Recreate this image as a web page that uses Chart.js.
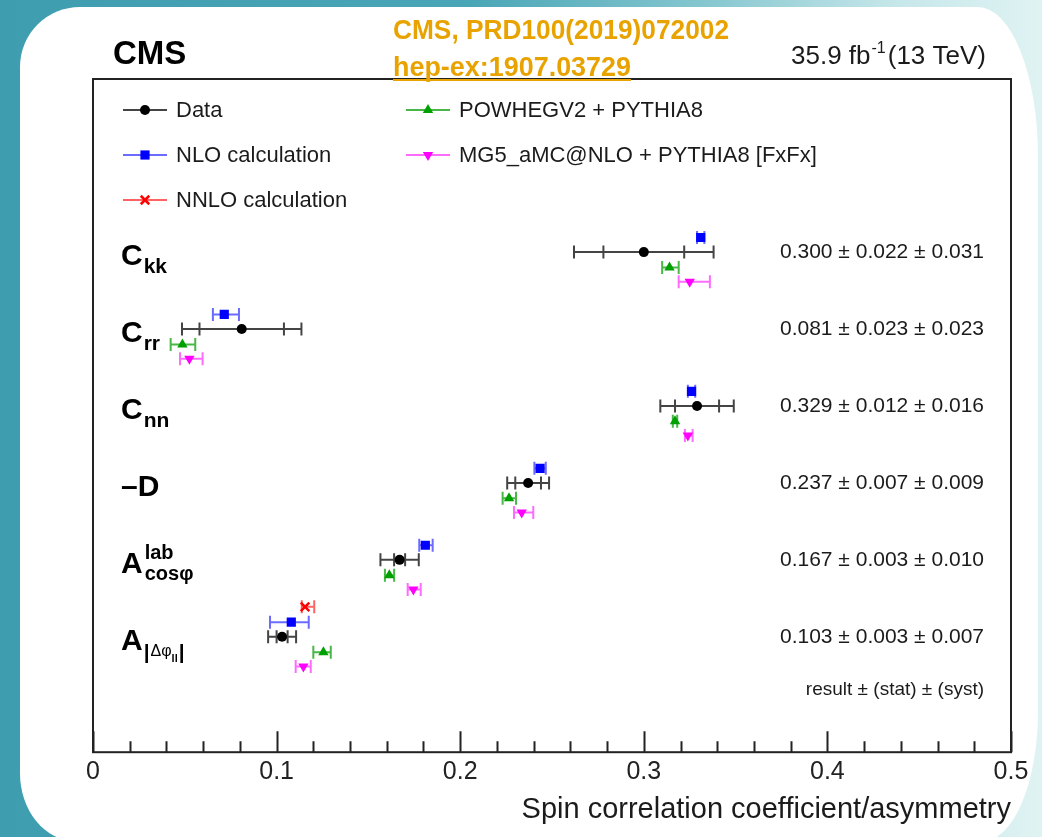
<!DOCTYPE html>
<html>
<head>
<meta charset="utf-8">
<script src="https://cdn.jsdelivr.net/npm/chart.js@4.4.1/dist/chart.umd.min.js"></script>
<style>
  html, body { margin: 0; padding: 0; overflow: hidden; background: #ffffff; }
  canvas { display: block; }
</style>
</head>
<body>
<canvas id="spin" width="1042" height="837"></canvas>
<script>
// Observables, listed top to bottom
const observables = ['Ckk', 'Crr', 'Cnn', '-D', 'Acos', 'Adphi'];

// Measured values: result, statistical and systematic uncertainty
const dataValue = [0.300, 0.081, 0.329, 0.237, 0.167, 0.103];
const dataStat  = [0.022, 0.023, 0.012, 0.007, 0.003, 0.003];
const dataSyst  = [0.031, 0.023, 0.016, 0.009, 0.010, 0.007];

// NLO calculation (lower / upper uncertainty)
const nloValue   = [0.331, 0.0715, 0.326, 0.2435, 0.181, 0.108];
const nloErrLow  = [0.002, 0.0062, 0.002, 0.0031, 0.0033, 0.0116];
const nloErrHigh = [0.002, 0.0080, 0.002, 0.0031, 0.0040, 0.0095];

// NNLO calculation (only for the |delta phi| asymmetry)
const nnloValue   = [null, null, null, null, null, 0.1155];
const nnloErrLow  = [null, null, null, null, null, 0.0018];
const nnloErrHigh = [null, null, null, null, null, 0.0050];

// POWHEGV2 + PYTHIA8
const powhegValue   = [0.314, 0.0487, 0.317, 0.2266, 0.1614, 0.1255];
const powhegErrLow  = [0.004, 0.0064, 0.0012, 0.0035, 0.0024, 0.0055];
const powhegErrHigh = [0.005, 0.0070, 0.0012, 0.0038, 0.0026, 0.0040];

// MG5_aMC@NLO + PYTHIA8 [FxFx]
const mgValue   = [0.325, 0.0525, 0.324, 0.2335, 0.1745, 0.1146];
const mgErrLow  = [0.006, 0.0051, 0.0016, 0.0042, 0.0031, 0.0042];
const mgErrHigh = [0.011, 0.0072, 0.0026, 0.0063, 0.0040, 0.0040];

// Axis tick labels
const xTickLabels = ['0', '0.1', '0.2', '0.3', '0.4', '0.5'];

const FONT = "'Liberation Sans', Arial, Helvetica, sans-serif";
const INK = '#1b1b1b';
const ORANGE = '#e9a300';

// vertical slot of each observable (top row has the largest value)
const rowPos = (i) => observables.length - 1 - i;
// small vertical displacement of each prediction inside its row
const shift = { data: 0, nlo: 0.19, nnlo: 0.39, powheg: -0.2, mg: -0.385 };

function points(values, lows, highs, dy) {
  const out = [];
  values.forEach((v, i) => {
    if (v === null) return;
    out.push({ x: v, y: rowPos(i) + dy, lo: v - lows[i], hi: v + highs[i] });
  });
  return out;
}

const dataPoints = dataValue.map((v, i) => {
  const tot = Math.sqrt(dataStat[i] * dataStat[i] + dataSyst[i] * dataSyst[i]);
  return { x: v, y: rowPos(i), lo: v - tot, hi: v + tot, sLo: v - dataStat[i], sHi: v + dataStat[i] };
});

const datasets = [
  { label: 'NLO calculation', data: points(nloValue, nloErrLow, nloErrHigh, shift.nlo),
    pointStyle: 'rect', pointRadius: 6.5, backgroundColor: '#0000ff', borderColor: '#0000ff', pointBorderWidth: 0,
    errorColor: 'rgba(70,70,255,0.8)' },
  { label: 'NNLO calculation', data: points(nnloValue, nnloErrLow, nnloErrHigh, shift.nnlo),
    pointStyle: 'crossRot', pointRadius: 6, backgroundColor: '#ff0000', borderColor: '#ff0000', pointBorderWidth: 2.5,
    errorColor: 'rgba(255,60,60,0.8)' },
  { label: 'POWHEGV2 + PYTHIA8', data: points(powhegValue, powhegErrLow, powhegErrHigh, shift.powheg),
    pointStyle: 'triangle', pointRadius: 6, backgroundColor: '#00a000', borderColor: '#00a000', pointBorderWidth: 0,
    errorColor: 'rgba(40,170,40,0.85)' },
  { label: 'MG5_aMC@NLO + PYTHIA8 [FxFx]', data: points(mgValue, mgErrLow, mgErrHigh, shift.mg),
    pointStyle: 'triangle', pointRotation: 180, pointRadius: 6, backgroundColor: '#ff00ff', borderColor: '#ff00ff', pointBorderWidth: 0,
    errorColor: 'rgba(255,70,255,0.8)' },
  { label: 'Data', data: dataPoints,
    pointStyle: 'circle', pointRadius: 5, backgroundColor: '#000000', borderColor: '#000000', pointBorderWidth: 0,
    errorColor: 'rgba(35,35,35,0.85)' }
];

// Card-shaped page background behind the plot
function cardPath(ctx, l, t, r, b, c) {
  ctx.beginPath();
  ctx.moveTo(l + c.tl[0], t);
  ctx.lineTo(r - c.tr[0], t);
  ctx.ellipse(r - c.tr[0], t + c.tr[1], c.tr[0], c.tr[1], 0, -Math.PI / 2, 0);
  ctx.lineTo(r, b - c.br[1]);
  ctx.ellipse(r - c.br[0], b - c.br[1], c.br[0], c.br[1], 0, 0, Math.PI / 2);
  ctx.lineTo(l + c.bl[0], b);
  ctx.ellipse(l + c.bl[0], b - c.bl[1], c.bl[0], c.bl[1], 0, Math.PI / 2, Math.PI);
  ctx.lineTo(l, t + c.tl[1]);
  ctx.ellipse(l + c.tl[0], t + c.tl[1], c.tl[0], c.tl[1], 0, Math.PI, 1.5 * Math.PI);
  ctx.closePath();
}

const backdrop = {
  id: 'backdrop',
  beforeDraw(chart) {
    const { ctx, width, height } = chart;
    ctx.save();
    const g = ctx.createLinearGradient(0, 0, width, 0);
    g.addColorStop(0, '#3f9db0');
    g.addColorStop(0.45, '#49a6b6');
    g.addColorStop(0.68, '#86c7d0');
    g.addColorStop(0.86, '#c6e7ea');
    g.addColorStop(1, '#e0f3f3');
    ctx.fillStyle = g;
    ctx.fillRect(0, 0, width, height);
    cardPath(ctx, 20, 7, 1038, 841, { tl: [60, 60], tr: [60, 150], br: [55, 130], bl: [55, 68] });
    ctx.fillStyle = '#ffffff';
    ctx.fill();
    ctx.restore();
  }
};

// Horizontal uncertainty bars with end caps
const errorBars = {
  id: 'errorBars',
  beforeDatasetsDraw(chart) {
    const { ctx } = chart;
    const xs = chart.scales.x, ys = chart.scales.y;
    ctx.save();
    ctx.lineWidth = 2;
    chart.data.datasets.forEach((ds) => {
      ctx.strokeStyle = ds.errorColor;
      ds.data.forEach((p) => {
        const y = ys.getPixelForValue(p.y);
        const x1 = xs.getPixelForValue(p.lo), x2 = xs.getPixelForValue(p.hi);
        ctx.beginPath();
        ctx.moveTo(x1, y); ctx.lineTo(x2, y);
        const caps = [x1, x2];
        if (p.sLo !== undefined) caps.push(xs.getPixelForValue(p.sLo), xs.getPixelForValue(p.sHi));
        caps.forEach((cx) => { ctx.moveTo(cx, y - 6.5); ctx.lineTo(cx, y + 6.5); });
        ctx.stroke();
      });
    });
    ctx.restore();
  }
};

// Plot frame with inward-pointing ticks on the horizontal axis
const frame = {
  id: 'frame',
  beforeDatasetsDraw(chart) {
    const { ctx, chartArea: a } = chart;
    const xs = chart.scales.x;
    ctx.save();
    ctx.strokeStyle = '#222';
    ctx.lineWidth = 2;
    ctx.strokeRect(a.left, a.top, a.right - a.left, a.bottom - a.top);
    ctx.beginPath();
    for (let k = 0; k <= 25; k++) {
      const v = xs.min + k * (xs.max - xs.min) / 25;
      const x = Math.round(xs.getPixelForValue(v)) + 0.5;
      const len = (k % 5 === 0) ? 21 : 11;
      ctx.moveTo(x, a.bottom); ctx.lineTo(x, a.bottom - len);
    }
    ctx.stroke();
    ctx.restore();
  }
};

function drawMarker(ctx, ds, x, y) {
  ctx.fillStyle = ds.backgroundColor;
  ctx.strokeStyle = ds.borderColor;
  ctx.lineWidth = ds.pointBorderWidth;
  if (Chart.helpers && Chart.helpers.drawPoint) {
    Chart.helpers.drawPoint(ctx, { pointStyle: ds.pointStyle, rotation: ds.pointRotation || 0,
      radius: ds.pointRadius, borderWidth: ds.pointBorderWidth }, x, y);
  } else {
    ctx.beginPath(); ctx.arc(x, y, ds.pointRadius, 0, Math.PI * 2); ctx.fill();
  }
}

function text(ctx, s, x, y, font, align, baseline) {
  ctx.font = font;
  ctx.textAlign = align || 'left';
  ctx.textBaseline = baseline || 'alphabetic';
  ctx.fillText(s, x, y);
  return ctx.measureText(s).width;
}

function fitText(ctx, s, x, y, width, font) {
  ctx.font = font;
  ctx.textAlign = 'left';
  ctx.textBaseline = 'alphabetic';
  const w = ctx.measureText(s).width;
  ctx.save();
  ctx.translate(x, y);
  ctx.scale(width / w, 1);
  ctx.fillText(s, 0, 0);
  ctx.restore();
}

const fmt = (v) => v.toFixed(3);

// Legend, headings, observable names and quoted results
const annotations = {
  id: 'annotations',
  afterDraw(chart) {
    const { ctx } = chart;
    const ys = chart.scales.y;
    const byLabel = {};
    chart.data.datasets.forEach((ds) => { byLabel[ds.label] = ds; });
    ctx.save();

    // headings
    ctx.fillStyle = '#000';
    text(ctx, 'CMS', 113, 64, 'bold 33px ' + FONT);
    ctx.fillStyle = ORANGE;
    fitText(ctx, 'CMS, PRD100(2019)072002', 393, 39, 336, 'bold 27px ' + FONT);
    fitText(ctx, 'hep-ex:1907.03729', 393, 76, 238, 'bold 27px ' + FONT);
    ctx.fillRect(393, 79, 238, 2);
    ctx.fillStyle = INK;
    let x = 791;
    x += text(ctx, '35.9 fb', x, 64, '26px ' + FONT);
    x += text(ctx, '-1', x + 1, 53, '16px ' + FONT) + 3;
    text(ctx, '(13 TeV)', x, 64, '26px ' + FONT);

    // legend
    const entries = [
      ['Data', 145, 110], ['NLO calculation', 145, 155], ['NNLO calculation', 145, 200],
      ['POWHEGV2 + PYTHIA8', 428, 110], ['MG5_aMC@NLO + PYTHIA8 [FxFx]', 428, 155]
    ];
    entries.forEach(([name, cx, cy]) => {
      const ds = byLabel[name];
      ctx.strokeStyle = ds.errorColor;
      ctx.lineWidth = 2;
      ctx.beginPath(); ctx.moveTo(cx - 22, cy); ctx.lineTo(cx + 22, cy); ctx.stroke();
      drawMarker(ctx, ds, cx, cy);
      ctx.fillStyle = INK;
      text(ctx, name, cx + 31, cy + 1, '22px ' + FONT, 'left', 'middle');
    });

    // observable names
    ctx.fillStyle = '#000';
    const big = 'bold 30px ' + FONT;
    const L = 121;
    observables.forEach((name, i) => {
      const yc = ys.getPixelForValue(rowPos(i));
      const base = yc + 13;
      if (name[0] === 'C') {
        const w = text(ctx, 'C', L, base, big);
        text(ctx, name.slice(1).toLowerCase(), L + w + 1, base + 8, 'bold 21px ' + FONT);
      } else if (name === '-D') {
        text(ctx, '\u2013D', L, base, big);
      } else if (name === 'Acos') {
        const w = text(ctx, 'A', L, base, big);
        text(ctx, 'lab', L + w + 2, base - 14, 'bold 20px ' + FONT);
        text(ctx, 'cos\u03c6', L + w + 2, base + 7, 'bold 20px ' + FONT);
      } else {
        const w = text(ctx, 'A', L, base, big);
        let sx = L + w + 1;
        sx += text(ctx, '|', sx, base + 9, 'bold 21px ' + FONT) + 1;
        sx += text(ctx, '\u0394\u03c6', sx, base + 6, '16px ' + FONT);
        sx += text(ctx, 'll', sx, base + 12, 'bold 11px ' + FONT) + 1;
        text(ctx, '|', sx, base + 9, 'bold 21px ' + FONT);
      }
      // quoted result
      ctx.fillStyle = INK;
      text(ctx, fmt(dataValue[i]) + ' \u00b1 ' + fmt(dataStat[i]) + ' \u00b1 ' + fmt(dataSyst[i]),
        984, yc, '21px ' + FONT, 'right', 'middle');
      ctx.fillStyle = '#000';
    });
    ctx.fillStyle = INK;
    text(ctx, 'result \u00b1 (stat) \u00b1 (syst)', 984, ys.getPixelForValue(-0.685), '19px ' + FONT, 'right', 'middle');

    ctx.restore();
  }
};

Chart.defaults.font.family = FONT;

new Chart(document.getElementById('spin'), {
  type: 'scatter',
  data: { datasets },
  options: {
    responsive: false,
    animation: false,
    devicePixelRatio: 1,
    events: [],
    layout: { padding: { left: 93, right: 31, top: 79, bottom: 8 } },
    plugins: { legend: { display: false }, tooltip: { enabled: false } },
    scales: {
      x: {
        type: 'linear', min: 0, max: 0.5, position: 'bottom',
        grid: { display: false, drawTicks: false },
        border: { display: false },
        ticks: {
          stepSize: 0.1, padding: 5, color: '#222',
          font: { size: 25, family: FONT },
          callback: (v) => xTickLabels[Math.round(v * 10)]
        },
        title: {
          display: true, text: 'Spin correlation coefficient/asymmetry', align: 'end',
          color: '#1b1b1b', font: { size: 29, family: FONT }, padding: { top: 0, bottom: 2 }
        }
      },
      y: { type: 'linear', min: -1.5, max: 7.25, display: false }
    }
  },
  plugins: [backdrop, frame, errorBars, annotations]
});
</script>
</body>
</html>
